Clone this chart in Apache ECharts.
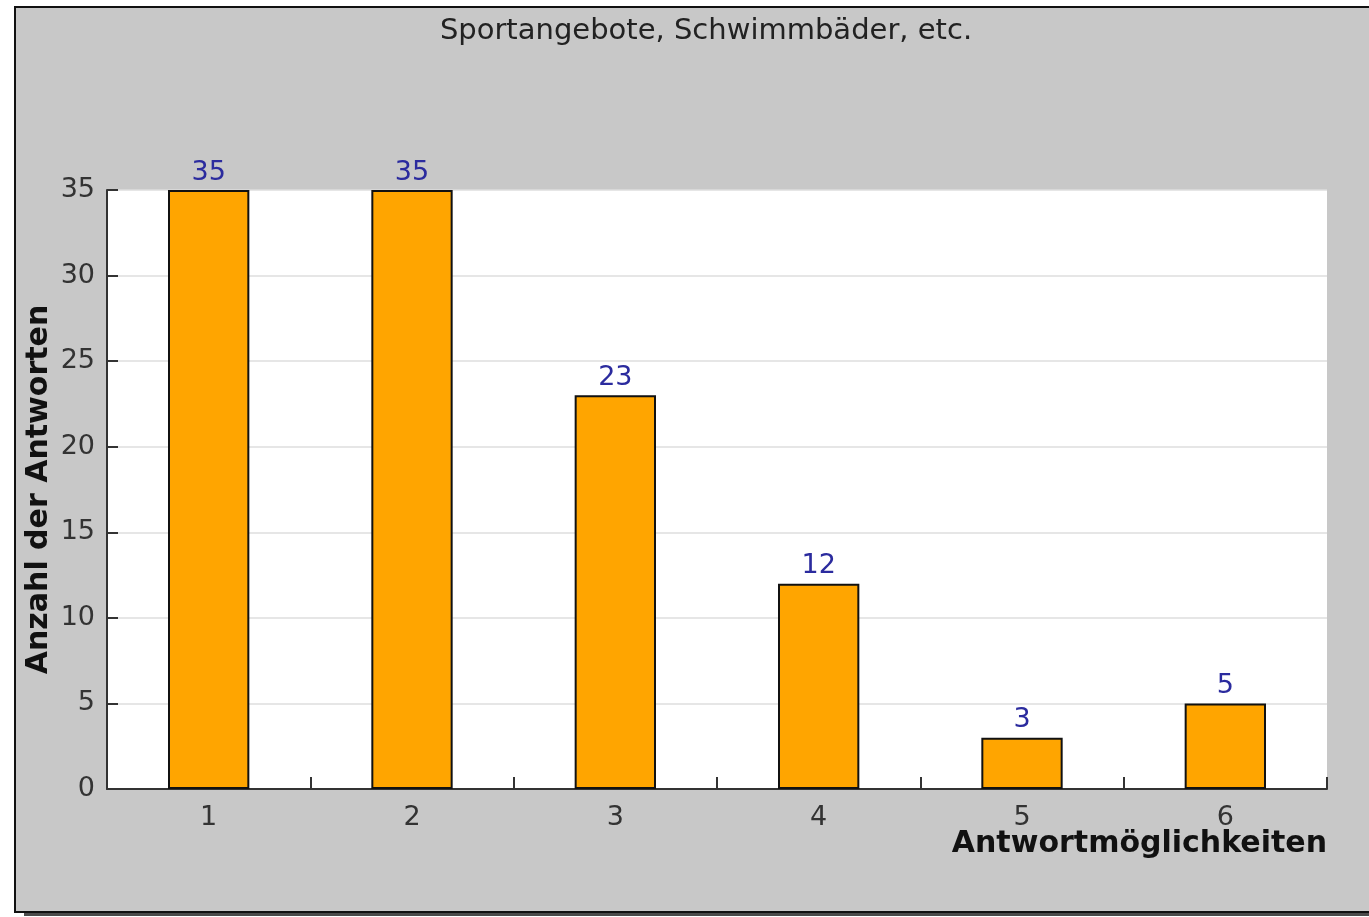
<!DOCTYPE html>
<html>
<head>
<meta charset="utf-8">
<script src="https://cdn.jsdelivr.net/npm/echarts@6/dist/echarts.min.js"></script>
<style>
  html, body { margin: 0; padding: 0; background: #ffffff; width: 1369px; height: 917px; overflow: hidden; }
  #frame {
    position: absolute; left: 14px; top: 6px; width: 1355px; height: 907px;
    box-sizing: border-box; border: 2px solid #111; border-right: none;
    background: #c8c8c8; box-shadow: 10px 3px 0 #4a4a4a;
  }
  #chart { position: absolute; left: 0; top: 0; width: 1353px; height: 903px; }
</style>
</head>
<body>
<div id="frame"><div id="chart"></div></div>
<script>
const chartTitle = "Sportangebote, Schwimmbäder, etc.";
const categories = ["1", "2", "3", "4", "5", "6"];
const answerCounts = [35, 35, 23, 12, 3, 5];
const xAxisName = "Antwortmöglichkeiten";
const yAxisName = "Anzahl der Antworten";

const FONT = "DejaVu Sans";
const chart = echarts.init(document.getElementById('chart'), null, { renderer: 'canvas' });
chart.setOption({
  backgroundColor: 'transparent',
  animation: false,
  textStyle: { fontFamily: FONT },
  title: {
    text: chartTitle,
    left: 690, top: 9, textAlign: 'center', padding: 0,
    textStyle: { fontFamily: FONT, fontSize: 29, fontWeight: 'normal', color: '#222' }
  },
  grid: {
    left: 91, top: 182, width: 1220, height: 599,
    show: true, backgroundColor: '#ffffff', borderWidth: 0,
    containLabel: false, outerBoundsMode: 'none'
  },
  xAxis: {
    type: 'category',
    data: categories,
    name: xAxisName,
    nameLocation: 'end',
    nameGap: 0,
    nameMoveOverlap: false,
    nameTextStyle: {
      fontFamily: FONT, fontSize: 30, fontWeight: 'bold', color: '#111',
      align: 'right', verticalAlign: 'top', padding: [40, 0, 0, 0]
    },
    axisLine: { show: true, lineStyle: { color: '#333', width: 2 } },
    axisTick: { show: true, inside: true, length: 12, alignWithLabel: false, lineStyle: { color: '#333', width: 2 } },
    axisLabel: { fontFamily: FONT, fontSize: 27, color: '#333', margin: 15 },
    splitLine: { show: false }
  },
  yAxis: {
    type: 'value',
    min: 0, max: 35, interval: 5,
    name: yAxisName,
    nameLocation: 'middle',
    nameGap: 53,
    nameRotate: 90,
    nameMoveOverlap: false,
    nameTextStyle: { fontFamily: FONT, fontSize: 30, fontWeight: 'bold', color: '#111' },
    axisLine: { show: true, lineStyle: { color: '#333', width: 2 } },
    axisTick: { show: true, inside: true, length: 11, lineStyle: { color: '#333', width: 2 } },
    axisLabel: { fontFamily: FONT, fontSize: 27, color: '#333', margin: 12 },
    splitLine: { show: true, lineStyle: { color: '#dedede', width: 1.5 } }
  },
  series: [{
    type: 'bar',
    data: answerCounts,
    barWidth: '40%',
    itemStyle: { color: '#ffa500', borderColor: '#111', borderWidth: 2 },
    label: {
      show: true, position: 'top', distance: 4,
      fontFamily: FONT, fontSize: 27, color: '#2b2b9e'
    }
  }]
});
</script>
</body>
</html>
